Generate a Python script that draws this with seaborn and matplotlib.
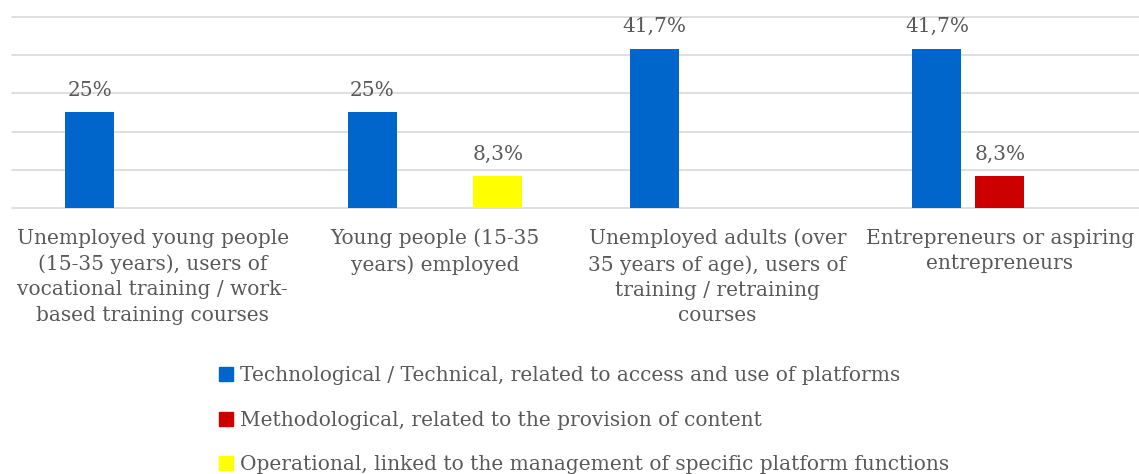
import numpy as np
import pandas as pd
import matplotlib
matplotlib.use("Agg")
import matplotlib.pyplot as plt
from matplotlib.lines import Line2D
import seaborn as sns

categories = [
    "Unemployed young people\n(15-35 years), users of\nvocational training / work-\nbased training courses",
    "Young people (15-35\nyears) employed",
    "Unemployed adults (over\n35 years of age), users of\ntraining / retraining\ncourses",
    "Entrepreneurs or aspiring\nentrepreneurs",
]
series = [
    "Technological / Technical, related to access and use of platforms",
    "Methodological, related to the provision of content",
    "Operational, linked to the management of specific platform functions",
]
technological = [25, 25, 41.7, 41.7]
methodological = [0, 0, 0, 8.3]
operational = [0, 8.3, 0, 0]
colors = ["#0066CC", "#CC0000", "#FFFF00"]

TEXT = "#595959"
FS = 14.5

sns.set_theme(style="white")
plt.rcParams["font.family"] = ["DejaVu Serif"]

values = [technological, methodological, operational]
df = pd.DataFrame({
    "category": [c for s in series for c in categories],
    "series": [s for s in series for c in categories],
    "value": [v for vals in values for v in vals],
})

W, H = 1139, 474
fig = plt.figure(figsize=(W / 100, H / 100), dpi=100)
ax = fig.add_axes([11.5 / W, 1 - 208 / H, (1141 - 11.5) / W, (208 - 17) / H])

sns.barplot(data=df, x="category", y="value", hue="series", order=categories,
            hue_order=series, palette=colors, saturation=1, width=0.6675, gap=0.22,
            linewidth=0, errorbar=None, ax=ax, legend=False)

ax.set_ylim(0, 50)
ax.set_yticks(np.arange(0, 51, 10))
ax.yaxis.grid(True, color="#D9D9D9", linewidth=1.2)
for gl in ax.get_ygridlines():
    gl.set_clip_on(False)
ax.set_axisbelow(True)
for sp in ax.spines.values():
    sp.set_visible(False)
ax.tick_params(axis="y", left=False, labelleft=False)
ax.tick_params(axis="x", bottom=False, pad=9, labelsize=FS, labelcolor=TEXT)
ax.set_xlabel("")
ax.set_ylabel("")
for lbl in ax.get_xticklabels():
    lbl.set_linespacing(1.42)

def fmt(v):
    return (f"{v:g}".replace(".", ",") + "%") if v > 0 else ""

for cont, vals in zip(ax.containers, values):
    ax.bar_label(cont, labels=[fmt(v) for v in vals], padding=9,
                 fontsize=FS, color=TEXT)

handles = [Line2D([], [], marker="s", linestyle="", markersize=9.5, color=c)
           for c in colors]
fig.legend(handles, series, loc="upper left", bbox_to_anchor=(218 / W, 1 - 366 / H),
           frameon=False, fontsize=FS, labelcolor=TEXT, handlelength=0.75,
           handletextpad=0.35, labelspacing=1.27, borderpad=0, borderaxespad=0)

fig.savefig("out.png", dpi=100)
